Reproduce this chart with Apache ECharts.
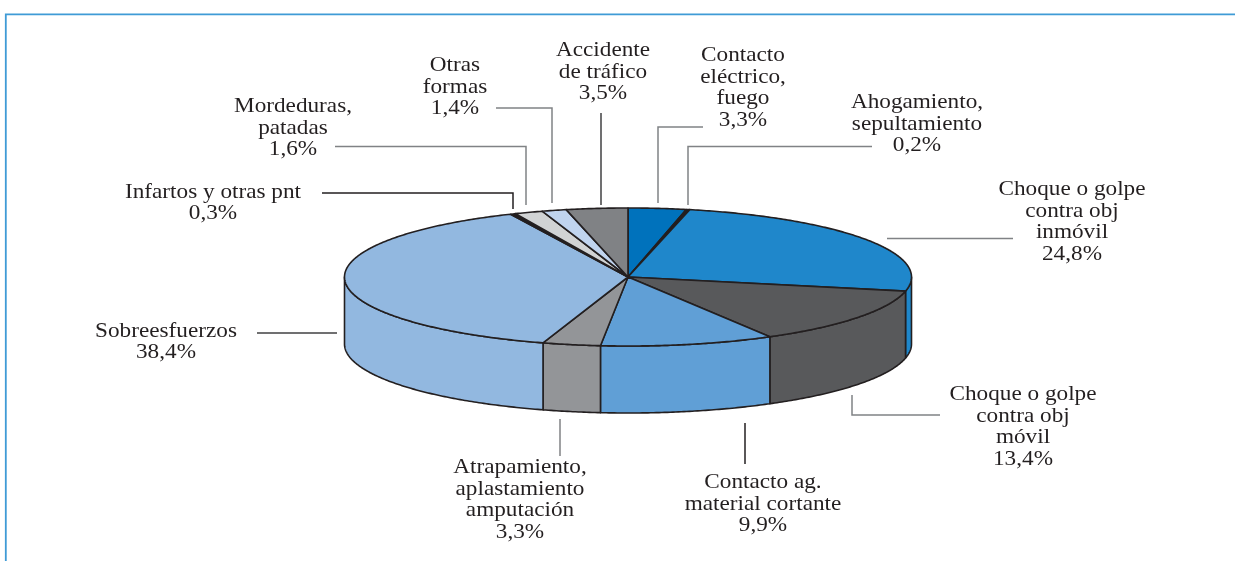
<!DOCTYPE html>
<html>
<head>
<meta charset="utf-8">
<style>
html, body { margin: 0; padding: 0; background: #fff; overflow: hidden; }
#chart { width: 1235px; height: 561px; }
</style>
<script src="https://cdn.jsdelivr.net/npm/echarts@6/dist/echarts.min.js"></script>
</head>
<body>
<div id="chart"></div>
<script>
// clockwise from 12 o'clock
const categories = [
	'Contacto\neléctrico,\nfuego',
	'Ahogamiento,\nsepultamiento',
	'Choque o golpe\ncontra obj\ninmóvil',
	'Choque o golpe\ncontra obj\nmóvil',
	'Contacto ag.\nmaterial cortante',
	'Atrapamiento,\naplastamiento\namputación',
	'Sobreesfuerzos',
	'Infartos y otras pnt',
	'Mordeduras,\npatadas',
	'Otras\nformas',
	'Accidente\nde tráfico'
];
const values = [3.3, 0.2, 24.8, 13.4, 9.9, 3.3, 38.4, 0.3, 1.6, 1.4, 3.5];

const sliceColors = ['#0072bc', '#231f20', '#1f87cb', '#58595b', '#609fd6', '#939598', '#92b8e0', '#231f20', '#d1d3d4', '#c0d4ef', '#808285'];

// layout of the labels: centre x, centre y of the text block
const labelCenters = [
	[743, 88], [917, 124], [1072, 222], [1023, 427], [763, 504], [520, 500],
	[166, 342], [213, 203], [293, 128], [455, 87], [603, 72]
];
// leader lines
const leaderLines = [
	[[703, 127], [658, 127], [658, 203]],
	[[872, 146.5], [688, 146.5], [688, 205]],
	[[887, 238.5], [1013, 238.5]],
	[[852, 395], [852, 415], [940, 415]],
	[[745, 423], [745, 464]],
	[[560, 419], [560, 456]],
	[[257, 333], [337, 333]],
	[[322, 193], [513, 193], [513, 209]],
	[[335, 146.5], [526, 146.5], [526, 205]],
	[[496, 108], [552, 108], [552, 203]],
	[[601, 113], [601, 205]]
];
const leaderColors = ['#808285', '#808285', '#808285', '#808285', '#231f20', '#808285', '#414042', '#231f20', '#808285', '#808285', '#414042'];

const cx = 628, cy = 277, rx = 283.5, ry = 69, depth = 67;
const outline = '#231f20';
const fontName = '"Liberation Serif", serif';

const total = values.reduce((a, b) => a + b, 0);
const startAngles = [];
values.reduce((sum, v, i) => {
	startAngles[i] = sum / total * Math.PI * 2;
	return sum + v;
}, 0);

function rimPoint(a, dy) {
	return [cx + rx * Math.sin(a), cy - ry * Math.cos(a) + (dy || 0)];
}

function arcPoints(a0, a1, dy) {
	const n = Math.max(2, Math.ceil((a1 - a0) / 0.01));
	const pts = [];
	for (let i = 0; i <= n; i++) {
		pts.push(rimPoint(a0 + (a1 - a0) * i / n, dy));
	}
	return pts;
}

function renderSide(params, api) {
	const i = params.dataIndex;
	const a0 = Math.max(startAngles[i], Math.PI / 2);
	const a1 = Math.min(startAngles[i] + api.value(0) / total * Math.PI * 2, Math.PI * 1.5);
	if (a1 <= a0) return null;
	const pts = arcPoints(a0, a1, 0).concat(arcPoints(a0, a1, depth).reverse());
	return {
		type: 'polygon',
		shape: { points: pts },
		style: { fill: sliceColors[i], stroke: outline, lineWidth: 1.6, lineJoin: 'round' }
	};
}

function renderTop(params, api) {
	const i = params.dataIndex;
	const a0 = startAngles[i];
	const a1 = a0 + api.value(0) / total * Math.PI * 2;
	return {
		type: 'polygon',
		shape: { points: [[cx, cy]].concat(arcPoints(a0, a1, 0)) },
		style: { fill: sliceColors[i], stroke: outline, lineWidth: 1.6, lineJoin: 'round' }
	};
}

function renderLabel(params, api) {
	const i = params.dataIndex;
	const txt = categories[i] + '\n' + api.value(0).toFixed(1).replace('.', ',') + '%';
	return {
		type: 'group',
		children: [
			{
				type: 'polyline',
				shape: { points: leaderLines[i] },
				style: { fill: 'none', stroke: leaderColors[i], lineWidth: 1.5 }
			},
			{
				type: 'text',
				x: labelCenters[i][0],
				y: labelCenters[i][1],
				scaleX: 1.08,
				style: {
					text: txt,
					fill: '#231f20',
					font: '21.5px ' + fontName,
					lineHeight: 21.5,
					align: 'center',
					verticalAlign: 'middle'
				}
			}
		]
	};
}

const chart = echarts.init(document.getElementById('chart'), null, { renderer: 'canvas' });
chart.setOption({
	animation: false,
	backgroundColor: '#fff',
	graphic: [{
		type: 'polyline',
		shape: { points: [[5.8, 561], [5.8, 14.3], [1235, 14.3]] },
		style: { fill: 'none', stroke: '#3f9bd6', lineWidth: 1.8 }
	}],
	series: [
		{ type: 'custom', coordinateSystem: 'none', z: 1, data: values.map(v => [v]), renderItem: renderSide, silent: true },
		{ type: 'custom', coordinateSystem: 'none', z: 2, data: values.map(v => [v]), renderItem: renderTop, silent: true },
		{ type: 'custom', coordinateSystem: 'none', z: 3, data: values.map(v => [v]), renderItem: renderLabel, silent: true }
	]
});
</script>
</body>
</html>
